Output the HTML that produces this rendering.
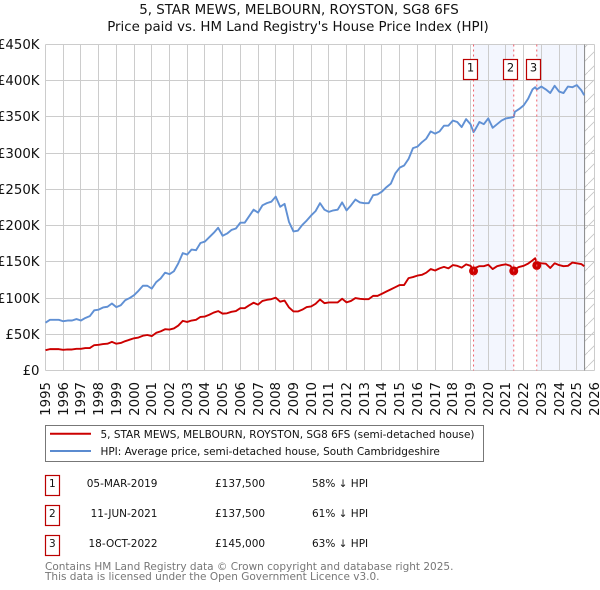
<!DOCTYPE html>
<html>
<head>
<meta charset="utf-8">
<title>5, STAR MEWS, MELBOURN, ROYSTON, SG8 6FS</title>
<style>
html,body{margin:0;padding:0;background:#fff;width:600px;height:590px;overflow:hidden}
svg{display:block;font-family:"DejaVu Sans",sans-serif}
text{fill:#111}
</style>
</head>
<body>
<svg id="chart" xmlns="http://www.w3.org/2000/svg" width="600" height="590" viewBox="0 0 600 590">
<defs>
<pattern id="hatch" width="14" height="14" patternUnits="userSpaceOnUse" patternTransform="translate(0 2)">
<path d="M-1 15L15 -1" stroke="#c4c4c4" stroke-width="0.8" fill="none"/>
</pattern>
</defs>
<text x="299" y="14" font-size="13.4" text-anchor="middle">5, STAR MEWS, MELBOURN, ROYSTON, SG8 6FS</text>
<text x="298" y="31" font-size="13.35" text-anchor="middle">Price paid vs. HM Land Registry's House Price Index (HPI)</text>
<g id="shades"></g>
<g id="grid"></g>
<g id="yticks"></g>
<g id="xticks"></g>
<g id="series"></g>
<g id="sales"></g>

<g>
<rect x="45.5" y="425.5" width="438" height="36" fill="#fff" stroke="#777" stroke-width="1"/>
<line x1="50" x2="91" y1="433.7" y2="433.7" stroke="#cc0000" stroke-width="2"/>
<text x="100.5" y="438" font-size="10.47">5, STAR MEWS, MELBOURN, ROYSTON, SG8 6FS (semi-detached house)</text>
<line x1="50" x2="91" y1="451" y2="451" stroke="#5b8bd0" stroke-width="2"/>
<text x="100.5" y="455" font-size="10.47">HPI: Average price, semi-detached house, South Cambridgeshire</text>
</g>

<g font-size="10.5">
<rect x="45.5" y="475.5" width="14" height="20" fill="#fff" stroke="#bb0000" stroke-width="1.2"/>
<text x="52.4" y="487" text-anchor="middle">1</text>
<text x="157.5" y="487" text-anchor="end">05-MAR-2019</text>
<text x="215" y="487">£137,500</text>
<text x="312" y="487">58% ↓ HPI</text>
<rect x="45.5" y="505.5" width="14" height="20" fill="#fff" stroke="#bb0000" stroke-width="1.2"/>
<text x="52.4" y="517" text-anchor="middle">2</text>
<text x="157.5" y="517" text-anchor="end">11-JUN-2021</text>
<text x="215" y="517">£137,500</text>
<text x="312" y="517">61% ↓ HPI</text>
<rect x="45.5" y="535.5" width="14" height="20" fill="#fff" stroke="#bb0000" stroke-width="1.2"/>
<text x="52.4" y="547" text-anchor="middle">3</text>
<text x="157.5" y="547" text-anchor="end">18-OCT-2022</text>
<text x="215" y="547">£145,000</text>
<text x="312" y="547">63% ↓ HPI</text>
</g>

<text x="45" y="570" font-size="10.5" style="fill:#777">Contains HM Land Registry data © Crown copyright and database right 2025.</text>
<text x="45" y="580" font-size="10.5" style="fill:#777">This data is licensed under the Open Government Licence v3.0.</text>
</svg>

<script>
const yearTicks = [1995,1996,1997,1998,1999,2000,2001,2002,2003,2004,2005,2006,2007,2008,2009,2010,2011,2012,2013,2014,2015,2016,2017,2018,2019,2020,2021,2022,2023,2024,2025,2026];
const priceTicks = [0,50,100,150,200,250,300,350,400,450];
const priceTickLabels = ["£0","£50K","£100K","£150K","£200K","£250K","£300K","£350K","£400K","£450K"];

const dates = [
1995,1995.25,1995.5,1995.75, 1996,1996.25,1996.5,1996.75, 1997,1997.25,1997.5,1997.75,
1998,1998.25,1998.5,1998.75, 1999,1999.25,1999.5,1999.75, 2000,2000.25,2000.5,2000.75,
2001,2001.25,2001.5,2001.75, 2002,2002.25,2002.5,2002.75, 2003,2003.25,2003.5,2003.75,
2004,2004.25,2004.5,2004.75, 2005,2005.25,2005.5,2005.75, 2006,2006.25,2006.5,2006.75,
2007,2007.25,2007.5,2007.75, 2008,2008.25,2008.5,2008.75, 2009,2009.25,2009.5,2009.75,
2010,2010.25,2010.5,2010.75, 2011,2011.25,2011.5,2011.75, 2012,2012.25,2012.5,2012.75,
2013,2013.25,2013.5,2013.75, 2014,2014.25,2014.5,2014.75, 2015,2015.25,2015.5,2015.75,
2016,2016.25,2016.5,2016.75, 2017,2017.25,2017.5,2017.75, 2018,2018.25,2018.5,2018.75,
2019,2019.17,2019.25,2019.5,2019.75, 2020,2020.25,2020.5,2020.75,
2021,2021.25,2021.44,2021.5,2021.75, 2022,2022.25,2022.5,2022.65,2022.74,
2023,2023.25,2023.5,2023.75, 2024,2024.25,2024.5,2024.75, 2025,2025.25,2025.42
];
const hpiValues = [
66,70,70,70, 68,69,69,71, 69,72.5,75,83,
84,87,88,92.5, 87.5,90,97,100, 104,110,117,117,
113,122,127,135, 133,137,148,162, 160,167,166,176,
178,184,190,197, 186,189,194,196, 204,204,213,222,
218,228,231,233, 240,226,230,205, 192,193,201,207,
214,220,231,222, 219,221,222,232, 221,228,236,232,
231,231,242,243, 247,253,258,272, 280,283,292,307,
309,315,320,330, 327,330,338,338, 345,343,336,347,
340,329,332,343,340, 348,335,340,345,
348,349,350,357,361, 366,375,388,391,388,
392,388,383,393, 385,383,392,391, 394,387,380
];
const paidValues = [
28,29.5,29.5,29.5, 28.5,29,29,30, 30,31,31,35,
35.5,36.5,37,39.5, 37,38,40.5,42.5, 44.5,45.5,48,49,
47.5,52,54,57, 56.5,58,62,68.5, 67,69,70,74,
74.5,77,80,82, 78.5,79,81,82, 86,86,90,93.5,
91,96,97.5,98.5, 100.5,95,96.5,87, 81.5,81.5,84,87.5,
88.5,92,98,93, 94,94,94,99, 94,96,100,99,
98.5,98.5,103,103, 106,109,112,115, 118,118,127.5,129,
131,132,135,140, 138,141,143,141, 145.5,144.5,142,146.5,
144.5,138,141.5,144,144, 146,140,144,145.5,
146.5,144.5,138,140,143, 144.5,147.5,152,155,149,
148,147.5,141.5,148, 145.5,144,144.5,149, 148,147,144
];

const saleDates = [2019.17,2021.44,2022.74];
const salePrices = [137.5,137.5,145];
const saleLabels = ["1","2","3"];
const dataEnd = 2025.44;

const NS = "http://www.w3.org/2000/svg";
function xScale(year){ return 45.5 + (year - 1995) * (594.5 - 45.5) / (2026 - 1995); }
function yScale(k){ return 370.5 - k * (370.5 - 44.5) / 450; }
function make(tag, parentId){
  const el = document.createElementNS(NS, tag);
  document.getElementById(parentId).appendChild(el);
  return el;
}
function setAll(el, attrs){ Object.keys(attrs).forEach(function(k){ el.setAttribute(k, attrs[k]); }); }

// shading: first sale to second sale, third sale to end of data
const shadeSpans = [[saleDates[0], saleDates[1]], [saleDates[2], dataEnd]];
shadeSpans.forEach(function(span){
  const r = make('rect', 'shades');
  
  
  setAll(r, {x: xScale(span[0]), y: yScale(450), width: xScale(span[1]) - xScale(span[0]), height: yScale(0) - yScale(450), fill: '#f3f6fe'});
});
const hatchRect = make('rect', 'shades');


setAll(hatchRect, {x: xScale(dataEnd), y: yScale(450), width: xScale(2026) - xScale(dataEnd), height: yScale(0) - yScale(450), fill: 'url(#hatch)'});

yearTicks.forEach(function(y){
  const l = make('line', 'grid');
  
  
  const px = Math.round(xScale(y) - 0.5) + 0.5;
  setAll(l, {x1: px, x2: px, y1: yScale(450), y2: yScale(0), stroke: '#cccccc', 'stroke-width': 1});
  const t = make('text', 'xticks');
  
  
  setAll(t, {'font-size': 13.3, 'text-anchor': 'end', transform: 'translate(' + (px + 4.5) + ' 382) rotate(-90)'});
  t.textContent = String(y);
});
priceTicks.forEach(function(v, i){
  const l = make('line', 'grid');
  
  
  const py = Math.round(yScale(v) - 0.5) + 0.5;
  setAll(l, {x1: xScale(1995), x2: xScale(2026), y1: py, y2: py, stroke: '#cccccc', 'stroke-width': 1});
  const t = make('text', 'yticks');
  
  
  setAll(t, {'font-size': 13.3, 'text-anchor': 'end', x: 39.5, y: py + 4.5});
  t.textContent = priceTickLabels[i];
});

const endLine = make('line', 'grid');


setAll(endLine, {x1: xScale(dataEnd), x2: xScale(dataEnd), y1: yScale(450), y2: yScale(0), stroke: '#888888', 'stroke-width': 1});

function linePath(values){
  return values.map(function(v, i){ return (i ? 'L' : 'M') + xScale(dates[i]).toFixed(2) + ' ' + yScale(v).toFixed(2); }).join('');
}
const hpiLine = make('path', 'series');


setAll(hpiLine, {d: linePath(hpiValues), fill: 'none', stroke: '#6090d4', 'stroke-width': 1.9, 'stroke-linejoin': 'round'});
const paidLine = make('path', 'series');


setAll(paidLine, {d: linePath(paidValues), fill: 'none', stroke: '#cc0000', 'stroke-width': 1.9, 'stroke-linejoin': 'round'});

saleDates.forEach(function(d, i){
  const px = xScale(d);
  const c = make('circle', 'sales');
  
  
  setAll(c, {cx: px, cy: yScale(salePrices[i]), r: 4.5, fill: '#cc0000'});
  const v = make('line', 'sales');
  
  
  setAll(v, {x1: px, x2: px, y1: yScale(450), y2: yScale(0), stroke: '#f0606a', 'stroke-width': 1, 'stroke-dasharray': '2 3'});
  const b = make('rect', 'sales');
  
  
  setAll(b, {x: Math.round(px) - 10.5, y: 59.5, width: 14, height: 20, fill: '#fff', stroke: '#bb0000', 'stroke-width': 1.2});
  const t = make('text', 'sales');
  
  
  setAll(t, {x: Math.round(px) - 3.5, y: 71.5, 'font-size': 11.5, 'text-anchor': 'middle'});
  t.textContent = saleLabels[i];
});
</script>
</body>
</html>
